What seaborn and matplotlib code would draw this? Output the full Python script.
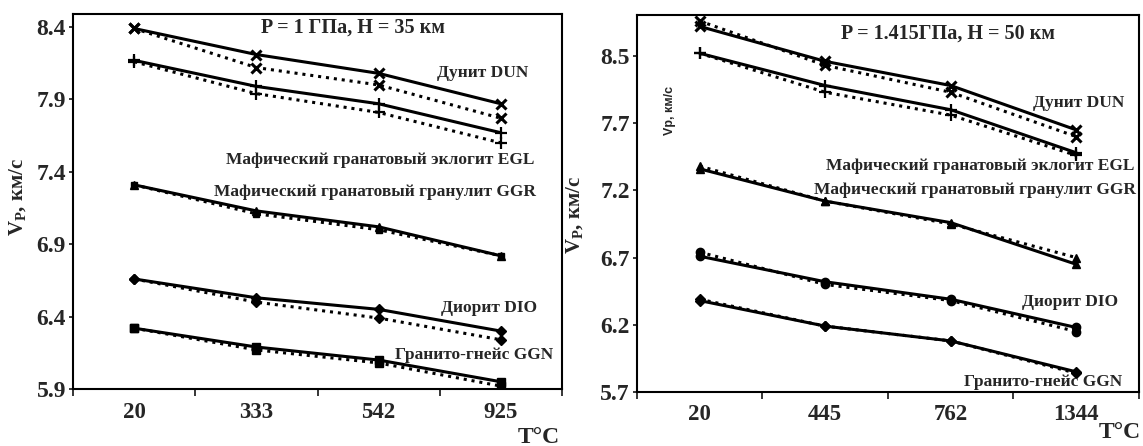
import numpy as np
import pandas as pd
import matplotlib
matplotlib.use("Agg")
import matplotlib.pyplot as plt
import seaborn as sns

# temperatures (categories) for the two depths
temps_35 = ["20", "333", "542", "925"]
temps_50 = ["20", "445", "762", "1344"]

# P = 1 GPa, H = 35 km  (a = solid, b = dotted)
dun_35_a = [8.39, 8.21, 8.08, 7.87]
dun_35_b = [8.39, 8.12, 8.00, 7.77]
egl_35_a = [8.17, 7.99, 7.87, 7.67]
egl_35_b = [8.16, 7.94, 7.81, 7.60]
ggr_35_a = [7.31, 7.13, 7.02, 6.82]
ggr_35_b = [7.31, 7.11, 7.00, 6.82]
dio_35_a = [6.66, 6.53, 6.45, 6.30]
dio_35_b = [6.66, 6.50, 6.39, 6.24]
ggn_35_a = [6.32, 6.19, 6.10, 5.95]
ggn_35_b = [6.32, 6.17, 6.08, 5.92]

# P = 1.415 GPa, H = 50 km
dun_50_a = [8.42, 8.16, 7.98, 7.65]
dun_50_b = [8.46, 8.13, 7.93, 7.60]
egl_50_a = [8.22, 7.98, 7.80, 7.48]
egl_50_b = [8.22, 7.93, 7.76, 7.46]
ggr_50_a = [7.36, 7.12, 6.96, 6.65]
ggr_50_b = [7.38, 7.12, 6.95, 6.70]
dio_50_a = [6.71, 6.52, 6.39, 6.18]
dio_50_b = [6.74, 6.50, 6.38, 6.15]
ggn_50_a = [6.38, 6.19, 6.08, 5.85]
ggn_50_b = [6.39, 6.19, 6.08, 5.84]

# y ticks (the top label on the right panel reads 8.5 in the original)
yticks_35 = [5.9, 6.4, 6.9, 7.4, 7.9, 8.4]
ylabels_35 = ["5.9", "6.4", "6.9", "7.4", "7.9", "8.4"]
yticks_50 = [5.7, 6.2, 6.7, 7.2, 7.7, 8.2]
ylabels_50 = ["5.7", "6.2", "6.7", "7.2", "7.7", "8.5"]

names = ["Дунит DUN", "Мафический гранатовый эклогит EGL",
         "Мафический гранатовый гранулит GGR", "Диорит DIO", "Гранито-гнейс GGN"]

sns.set_style("ticks")
plt.rcParams["font.family"] = ["Liberation Serif", "DejaVu Serif"]
plt.rcParams["font.weight"] = "bold"
plt.rcParams["mathtext.fontset"] = "custom"
plt.rcParams["mathtext.rm"] = "Liberation Serif:bold"
plt.rcParams["mathtext.it"] = "Liberation Serif:bold"

fig = plt.figure(figsize=(11.43, 4.46), dpi=100)
ax1 = fig.add_axes([0.0639, 0.1278, 0.4278, 0.8408])
ax2 = fig.add_axes([0.5573, 0.1211, 0.4392, 0.8453])

solid = "-"
dotted = (0, (1, 1.6))


def draw(ax, temps, series):
    for vals, ls, mk, ms, mew in series:
        df = pd.DataFrame({"T": temps, "V": vals})
        sns.pointplot(data=df, x="T", y="V", order=temps, ax=ax, color="black",
                      errorbar=None, linestyle=ls, linewidth=2.2, marker=mk,
                      markersize=ms, markeredgewidth=mew)


draw(ax1, temps_35, [
    (dun_35_a, solid, "x", 7, 2.2), (dun_35_b, dotted, "x", 7, 2.2),
    (egl_35_a, solid, "+", 9, 1.6), (egl_35_b, dotted, "+", 9, 1.6),
    (ggr_35_a, solid, "^", 6, 1), (ggr_35_b, dotted, "s", 5, 1),
    (dio_35_a, solid, "D", 5, 1), (dio_35_b, dotted, "D", 5, 1),
    (ggn_35_a, solid, "s", 6, 1), (ggn_35_b, dotted, "s", 6, 1),
])
draw(ax2, temps_50, [
    (dun_50_a, solid, "x", 7, 2.2), (dun_50_b, dotted, "x", 7, 2.2),
    (egl_50_a, solid, "+", 9, 1.6), (egl_50_b, dotted, "+", 9, 1.6),
    (ggr_50_a, solid, "^", 6, 1), (ggr_50_b, dotted, "^", 6, 1),
    (dio_50_a, solid, "o", 6, 1), (dio_50_b, dotted, "o", 6, 1),
    (ggn_50_a, solid, "D", 5, 1), (ggn_50_b, dotted, "D", 5, 1),
])

for ax, yt, yl, lim in [(ax1, yticks_35, ylabels_35, (5.9, 8.49)),
                        (ax2, yticks_50, ylabels_50, (5.7, 8.505))]:
    ax.set_xlim(-0.5, 3.5)
    ax.set_ylim(*lim)
    ax.set_yticks(yt)
    ax.set_yticklabels(yl)
    ax.set_xticks(np.arange(4))
    ax.set_xticks(np.arange(-0.5, 4, 1), minor=True)
    ax.tick_params(axis="x", which="major", length=0, labelsize=16.5, pad=9)
    ax.tick_params(axis="x", which="minor", length=5, width=1.3, direction="out")
    ax.tick_params(axis="y", length=3, width=1.3, labelsize=17, pad=2)
    ax.set_xlabel("")
    ax.set_ylabel("")
    for s in ax.spines.values():
        s.set_visible(True)
        s.set_linewidth(1.5)
        s.set_color("black")

lab = dict(fontsize=12.5, fontweight="bold")
ax1.text(0.573, 0.965, "P = 1 ГПа, H = 35 км", transform=ax1.transAxes,
         ha="center", va="center", fontsize=14.5, fontweight="bold")
ax1.text(0.838, 0.844, names[0], transform=ax1.transAxes, ha="center", va="center", **lab)
ax1.text(0.943, 0.611, names[1], transform=ax1.transAxes, ha="right", va="center", **lab)
ax1.text(0.947, 0.525, names[2], transform=ax1.transAxes, ha="right", va="center", **lab)
ax1.text(0.949, 0.216, names[3], transform=ax1.transAxes, ha="right", va="center", **lab)
ax1.text(0.982, 0.091, names[4], transform=ax1.transAxes, ha="right", va="center", **lab)

ax2.text(0.620, 0.950, "P = 1.415ГПа, H = 50 км", transform=ax2.transAxes,
         ha="center", va="center", fontsize=14.5, fontweight="bold")
ax2.text(0.880, 0.767, names[0], transform=ax2.transAxes, ha="center", va="center", **lab)
ax2.text(0.990, 0.599, names[1], transform=ax2.transAxes, ha="right", va="center", **lab)
ax2.text(0.994, 0.536, names[2], transform=ax2.transAxes, ha="right", va="center", **lab)
ax2.text(0.958, 0.239, names[3], transform=ax2.transAxes, ha="right", va="center", **lab)
ax2.text(0.966, 0.027, names[4], transform=ax2.transAxes, ha="right", va="center", **lab)
ax2.text(0.066, 0.748, "Vp, км/с", transform=ax2.transAxes, rotation=90,
         ha="center", va="center", fontsize=9, fontweight="bold",
         family=["Liberation Sans", "DejaVu Sans"])

fig.text(0.4716, 0.020, "T°C", ha="center", va="center", fontsize=17, fontweight="bold")
fig.text(0.980, 0.031, "T°C", ha="center", va="center", fontsize=17, fontweight="bold")
fig.text(0.0157, 0.558, "V$_\\mathrm{P}$, км/с", rotation=90, ha="center", va="center",
         fontsize=15, fontweight="bold")
fig.text(0.503, 0.518, "V$_\\mathrm{P}$, км/с", rotation=90, ha="center", va="center",
         fontsize=15, fontweight="bold")

fig.savefig("out.png", dpi=100)
